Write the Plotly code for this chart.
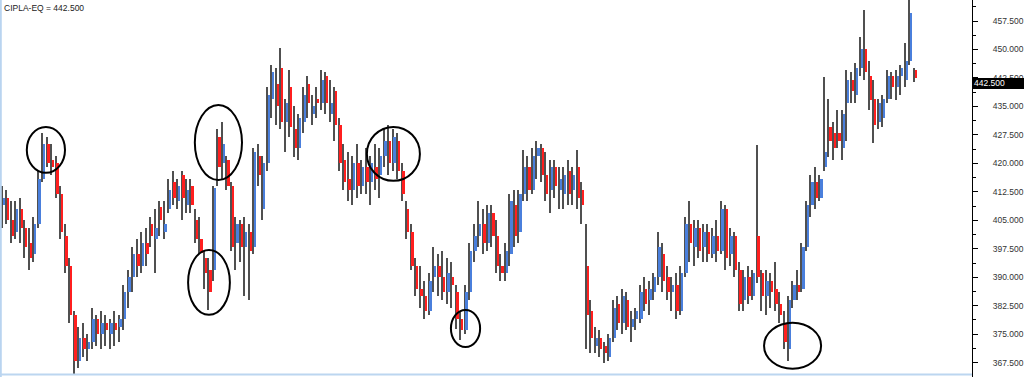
import plotly.graph_objects as go

# Daily OHLC bars
opens = [409,411,405,402,408,403,399,396,404,416,425,421,420,412,401,393,380,368,374,371,
         373,379,375,378,375,378,377,379,386,390,396,393,399,404,400,408.5,402,408,415,410,
         417,409,414,405,400,395,392,392,427,420,421,414,399,404,398,402,398,422,408,420,
         437,441,445,431,440,429,424,431,441,433,437,436,443,433,439,430,421,416,413,420,
         414,419,415,419,417,422,426,420,426,418,408,402,393,387,385,381,390,393,390,386,
         390,386,379,376,386,397,401,404,399,407,401,393,391,396,409,402,412,419,413,422,
         424,417,413,419,413,412,418,413,419,413,393,381,372,374,372,369,374,383,378,384,
         377,379,379,387,384,386,390,396,390,386,388,381,391,404,398,403,398,402,396,401,
         397,408,396,401,392,384,390,385,401,391,385,389,387,383,378,371,384,388,387,398,
         409,415,411,419,429.6,428,428,424,436,442,438,445,450,443,437,431,432,437,443,440,
         443,442,447,444.6]
highs = [414,413,410,410,411,405,403,406,418,428,427,425,422,414,404,395,381,377,378,375,
         382,380,381,380,379,381,380,388,392,398,400,402,403,406,408,410,410,416,418,416,
         418,416,416,408,406,397,395,414,429,431,422,415,406,405,406,404,424,425,422,440,
         446,445,450.4,437,444.6,435,433,440,443,438,440,444.6,444,442,440,432,425,423,422,425,
         421,424,422,425,424,429,430,429,428,420,410,404,395,393,389,391,398,396,397,395,
         394,388,381,388,399,404,410,408,409,409,405,396,399,412,413,413,423.5,422,424,426,
         425,423,421,421,419,419,421,419,423.5,415,404,384,377,376,373,375,384,385,387,386,
         381,382,388,390,389,391,402,399,393,390,391,393,406,410,405,405,404,404,403,405,
         410,409,403,402,394,392,393,392,424.8,392,392,391,394,386,381,385,389,392,399,410,
         417,419,417,442.8,437,431,434,434,444.6,444,446.4,453.3,460.4,447,442,437,438,444.6,444,444.6,
         446,451.7,463,445]
lows = [403,404,399,400,399,395,392,394,403,415,419,417,411,400,391,378,364.5,366,369,368,
        371,372,371,372,371,372,373,376,382,386,390,391,393,398,391,401,400,407,409,408,
        405,407,407,399,396,387,381.5,389,414,416,413,397,392,394,385,384,396,414,405,418,
        432,430,429,423,427,421.7,421,428,432,430,432,434,433,431,426,418,413,410,409,411,
        412,412,409,413,411,419,417,418,416,410,400,392,385,382,379,380,386,385,384,383,
        382,376.5,373.5,375,384,394,398,396,397,398,391,389,389,393,398,399,410,410,412,416,
        415,410,407,411,408,408,409,409,408,404,371,370,370,369,367.4,368,373,376,375,376,
        373,376,378,381,380,384,388,386,384,381,379,380,390,394,393,395,394,394,395,394,
        396,392,393,390,381,381,383,384,388.5,381,380,382,381,378,371,368,382,384,386,397,
        406,408,410,418,421.7,421,424,421,426,436,436,443,442,434,425.4,429,429.6,436,437,436.7,
        438,440,446,441.5]
closes = [411,405,401,408,403,398,395,404,416,425,420,419,412,402,393,380,368,374,371,373,
          379,375,378,376,378,376,379,386,390,396,393,399,396,401,403,405,404,413,411,414,
          411,413,409,400,396.5,391,386,413.5,419,425,414,398,404,398,402,397,423,417,420,438,
          444,435,431,436,429.6,424,432,438,436,435,436,442,436,436,430,420,415,413,420,414,
          419,415,420,416,422,426,420,427,418,412,402,393,387,385,381,389,393,390,386,391,
          388,379,376,386,397,401,404,399,407,401,393,391,397,410,401,412,419,413,422,424,
          417,412,419,414,416,417,412,417,411,409,380,374,374,371,370,374,382,378,385,377,
          379,381,386,383,387,390,398,389,386,388,381,391,404,399,403,397,402,396,401,397,
          408,395,401,392,383,390,385,391,390,385,389,386,383,380,373,384,388,386,398,409,
          415,411,416,423,426,424,426,433,442,439,445,450,444,436.7,430,435.9,437,443,440,443,
          445,447,459.6,442.5]

y_ticks = [367.5 + 7.5 * k for k in range(13)]
last_price = 442.5
title_text = "CIPLA-EQ = 442.500"

# Hand-drawn ellipses: (bar-index left, bar-index right, price bottom, price top)
circles = [
    (5.3, 13.8, 417.5, 429.6),
    (42.7, 53.2, 415.6, 435.4),
    (41.2, 50.5, 380.1, 397.2),
    (81.0, 92.8, 415.4, 429.6),
    (99.7, 106.2, 371.6, 381.4),
    (169.4, 182.1, 365.9, 378.0),
]

n = len(closes)
idx = list(range(n))
BLUE = "#4a7fdc"
RED = "#ff1f1f"
GREY = "#505050"
body_colors = [BLUE if c >= o else RED for o, c in zip(opens, closes)]
body_base = [min(o, c) for o, c in zip(opens, closes)]
body_len = [max(abs(c - o), 0.3) for o, c in zip(opens, closes)]

fig = go.Figure()
fig.add_trace(go.Bar(
    x=idx, base=lows, y=[h - l for h, l in zip(highs, lows)],
    width=0.3, offset=-0.38, marker=dict(color=GREY, line=dict(width=0)),
    hoverinfo="skip", showlegend=False))
fig.add_trace(go.Bar(
    x=idx, base=body_base, y=body_len,
    width=0.52, offset=-0.1, marker=dict(color=body_colors, line=dict(width=0)),
    hoverinfo="skip", showlegend=False))

shapes = []
for x0, x1, y0, y1 in circles:
    shapes.append(dict(type="circle", xref="x", yref="y", x0=x0, x1=x1, y0=y0, y1=y1,
                       line=dict(color="black", width=2), layer="above"))
# light blue frame lines (left and bottom)
shapes.append(dict(type="line", xref="paper", yref="paper", x0=0.0008, x1=0.0008, y0=0, y1=1,
                   line=dict(color="#b9d4f0", width=2)))
shapes.append(dict(type="line", xref="paper", yref="paper", x0=0, x1=1, y0=0.0066, y1=0.0066,
                   line=dict(color="#bcd6f0", width=2)))
# last price box on the axis
shapes.append(dict(type="rect", xref="paper", yref="y", x0=1.0, x1=1.06,
                   y0=last_price - 2.9, y1=last_price, fillcolor="black",
                   line=dict(width=0), layer="above"))

fig.update_layout(
    width=1024, height=377,
    margin=dict(l=0, r=52, t=0, b=0, autoexpand=False),
    paper_bgcolor="white", plot_bgcolor="white",
    barmode="overlay", bargap=0,
    font=dict(family="Liberation Sans, Arial, sans-serif", size=8.5, color="#333"),
    shapes=shapes,
    annotations=[
        dict(text=title_text, xref="paper", yref="paper", x=0, y=1, xshift=2, yshift=-1,
             xanchor="left", yanchor="top", showarrow=False,
             font=dict(size=8.5, color="#222")),
        dict(text=f"{last_price:.3f}", xref="paper", yref="y", x=1.0, xshift=0,
             y=last_price - 1.45, xanchor="left", yanchor="middle", showarrow=False,
             font=dict(size=8.5, color="white")),
    ],
)
fig.update_xaxes(range=[-0.668, 215.69], visible=False, showgrid=False, zeroline=False)
fig.update_yaxes(
    side="right", range=[363.73, 463.03], tickvals=y_ticks, tickformat=".3f",
    automargin=False,
    showline=True, linecolor="black", linewidth=1, mirror=False,
    ticks="outside", ticklen=5, tickcolor="black", tickwidth=1,
    ticklabelstandoff=13,
    minor=dict(tickvals=[v + 3.75 for v in y_ticks], ticks="outside", ticklen=3,
               tickcolor="black", showgrid=False),
    showgrid=False, zeroline=False,
    tickfont=dict(size=8.5, color="#333"),
)

fig.write_html("out.html")
